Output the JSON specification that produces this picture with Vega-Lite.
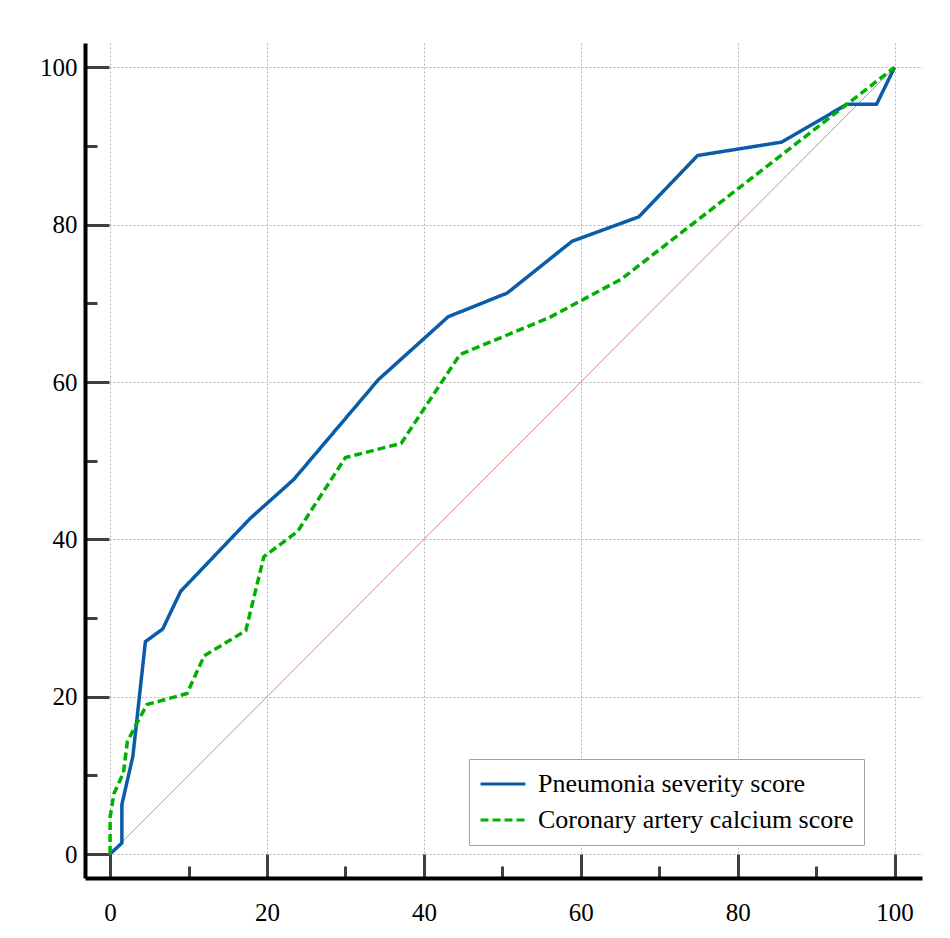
{
  "$schema": "https://vega.github.io/schema/vega-lite/v6.json",
  "width": 837,
  "height": 835,
  "autosize": {"type": "none"},
  "padding": {"left": 85, "top": 43, "right": 28, "bottom": 60},
  "background": "white",
  "config": {"view": {"stroke": null}, "font": "Liberation Serif"},
  "datasets": {
    "diag": [
      {"fpr": 0, "tpr": 0},
      {"fpr": 100, "tpr": 100}
    ],
    "roc": [
      {"series": "Pneumonia severity score", "fpr": 0, "tpr": 0},
      {"series": "Pneumonia severity score", "fpr": 1.5, "tpr": 1.4},
      {"series": "Pneumonia severity score", "fpr": 1.5, "tpr": 6.3},
      {"series": "Pneumonia severity score", "fpr": 2.9, "tpr": 12.4},
      {"series": "Pneumonia severity score", "fpr": 4.5, "tpr": 27.0},
      {"series": "Pneumonia severity score", "fpr": 6.7, "tpr": 28.6},
      {"series": "Pneumonia severity score", "fpr": 9.0, "tpr": 33.4},
      {"series": "Pneumonia severity score", "fpr": 17.9, "tpr": 42.7},
      {"series": "Pneumonia severity score", "fpr": 23.4, "tpr": 47.6},
      {"series": "Pneumonia severity score", "fpr": 34.2, "tpr": 60.3},
      {"series": "Pneumonia severity score", "fpr": 43.1, "tpr": 68.3},
      {"series": "Pneumonia severity score", "fpr": 50.6, "tpr": 71.3},
      {"series": "Pneumonia severity score", "fpr": 58.9, "tpr": 77.9},
      {"series": "Pneumonia severity score", "fpr": 67.4, "tpr": 81.0},
      {"series": "Pneumonia severity score", "fpr": 74.9, "tpr": 88.8},
      {"series": "Pneumonia severity score", "fpr": 85.6, "tpr": 90.5},
      {"series": "Pneumonia severity score", "fpr": 93.9, "tpr": 95.3},
      {"series": "Pneumonia severity score", "fpr": 97.7, "tpr": 95.3},
      {"series": "Pneumonia severity score", "fpr": 100, "tpr": 100},
      {"series": "Coronary artery calcium score", "fpr": 0, "tpr": 0},
      {"series": "Coronary artery calcium score", "fpr": 0, "tpr": 4.7},
      {"series": "Coronary artery calcium score", "fpr": 0.5, "tpr": 7.7},
      {"series": "Coronary artery calcium score", "fpr": 1.7, "tpr": 10.3},
      {"series": "Coronary artery calcium score", "fpr": 2.2, "tpr": 14.3},
      {"series": "Coronary artery calcium score", "fpr": 3.4, "tpr": 16.6},
      {"series": "Coronary artery calcium score", "fpr": 4.7, "tpr": 19.0},
      {"series": "Coronary artery calcium score", "fpr": 9.8, "tpr": 20.4},
      {"series": "Coronary artery calcium score", "fpr": 12.0, "tpr": 25.2},
      {"series": "Coronary artery calcium score", "fpr": 17.3, "tpr": 28.4},
      {"series": "Coronary artery calcium score", "fpr": 19.6, "tpr": 37.8},
      {"series": "Coronary artery calcium score", "fpr": 23.9, "tpr": 41.0},
      {"series": "Coronary artery calcium score", "fpr": 30.0, "tpr": 50.4},
      {"series": "Coronary artery calcium score", "fpr": 37.1, "tpr": 52.2},
      {"series": "Coronary artery calcium score", "fpr": 44.6, "tpr": 63.5},
      {"series": "Coronary artery calcium score", "fpr": 56.0, "tpr": 68.2},
      {"series": "Coronary artery calcium score", "fpr": 65.2, "tpr": 73.1},
      {"series": "Coronary artery calcium score", "fpr": 100, "tpr": 100}
    ]
  },
  "encoding": {
    "x": {
      "field": "fpr",
      "type": "quantitative",
      "scale": {"domain": [-3.2, 103.5], "nice": false, "zero": false},
      "axis": {
        "title": null,
        "values": [0, 10, 20, 30, 40, 50, 60, 70, 80, 90, 100],
        "labelExpr": "datum.value % 20 === 0 ? datum.label : ''",
        "tickSize": {"condition": {"test": "datum.value % 20 === 0", "value": -24}, "value": -12},
        "tickColor": "#404040",
        "tickWidth": 3,
        "domainColor": "black",
        "domainWidth": 4,
        "grid": true,
        "gridDash": [2, 2],
        "gridColor": "#b5b5b5",
        "gridWidth": 1,
        "gridOpacity": {"condition": {"test": "datum.value % 20 === 0", "value": 1}, "value": 0},
        "labelFont": "Liberation Serif",
        "labelFontSize": 25,
        "labelColor": "black",
        "labelPadding": 46,
        "labelOverlap": false,
        "labelFlush": false
      }
    },
    "y": {
      "field": "tpr",
      "type": "quantitative",
      "scale": {"domain": [-3.05, 103.1], "nice": false, "zero": false},
      "axis": {
        "title": null,
        "values": [0, 10, 20, 30, 40, 50, 60, 70, 80, 90, 100],
        "labelExpr": "datum.value % 20 === 0 ? datum.label : ''",
        "tickSize": {"condition": {"test": "datum.value % 20 === 0", "value": -24}, "value": -12},
        "tickColor": "#404040",
        "tickWidth": 3,
        "domainColor": "black",
        "domainWidth": 4,
        "grid": true,
        "gridDash": [2, 2],
        "gridColor": "#b5b5b5",
        "gridWidth": 1,
        "gridOpacity": {"condition": {"test": "datum.value % 20 === 0", "value": 1}, "value": 0},
        "labelFont": "Liberation Serif",
        "labelFontSize": 25,
        "labelColor": "black",
        "labelPadding": 32,
        "labelOverlap": false,
        "labelFlush": false
      }
    }
  },
  "layer": [
    {
      "data": {"name": "diag"},
      "mark": {"type": "line", "color": "#d98585", "strokeWidth": 1}
    },
    {
      "data": {"name": "roc"},
      "mark": {"type": "line", "strokeWidth": 3.5},
      "encoding": {
        "color": {
          "field": "series",
          "type": "nominal",
          "scale": {"domain": ["Pneumonia severity score", "Coronary artery calcium score"], "range": ["#0a5ca8", "#00b000"]},
          "legend": {
            "title": null,
            "orient": "none",
            "legendX": 384,
            "legendY": 716,
            "symbolType": "stroke",
            "symbolSize": 2025,
            "symbolStrokeWidth": 3,
            "labelFont": "Liberation Serif",
            "labelFontSize": 26,
            "labelColor": "black",
            "labelOffset": 11,
            "labelLimit": 600,
            "labelExpr": "datum.label + '\u00a0\u00a0\u00a0\u00a0\u00a0'",
            "clipHeight": 30,
            "rowPadding": 6,
            "padding": 10,
            "fillColor": "white",
            "strokeColor": "#a0a0a0"
          }
        },
        "strokeDash": {
          "field": "series",
          "type": "nominal",
          "scale": {"domain": ["Pneumonia severity score", "Coronary artery calcium score"], "range": [[1, 0], [8, 4]]},
          "legend": {
            "title": null,
            "orient": "none",
            "legendX": 384,
            "legendY": 716,
            "symbolType": "stroke",
            "symbolSize": 2025,
            "symbolStrokeWidth": 3,
            "labelFont": "Liberation Serif",
            "labelFontSize": 26,
            "labelColor": "black",
            "labelOffset": 11,
            "labelLimit": 600,
            "labelExpr": "datum.label + '\u00a0\u00a0\u00a0\u00a0\u00a0'",
            "clipHeight": 30,
            "rowPadding": 6,
            "padding": 10,
            "fillColor": "white",
            "strokeColor": "#a0a0a0"
          }
        },
        "order": {"value": null}
      }
    }
  ]
}
